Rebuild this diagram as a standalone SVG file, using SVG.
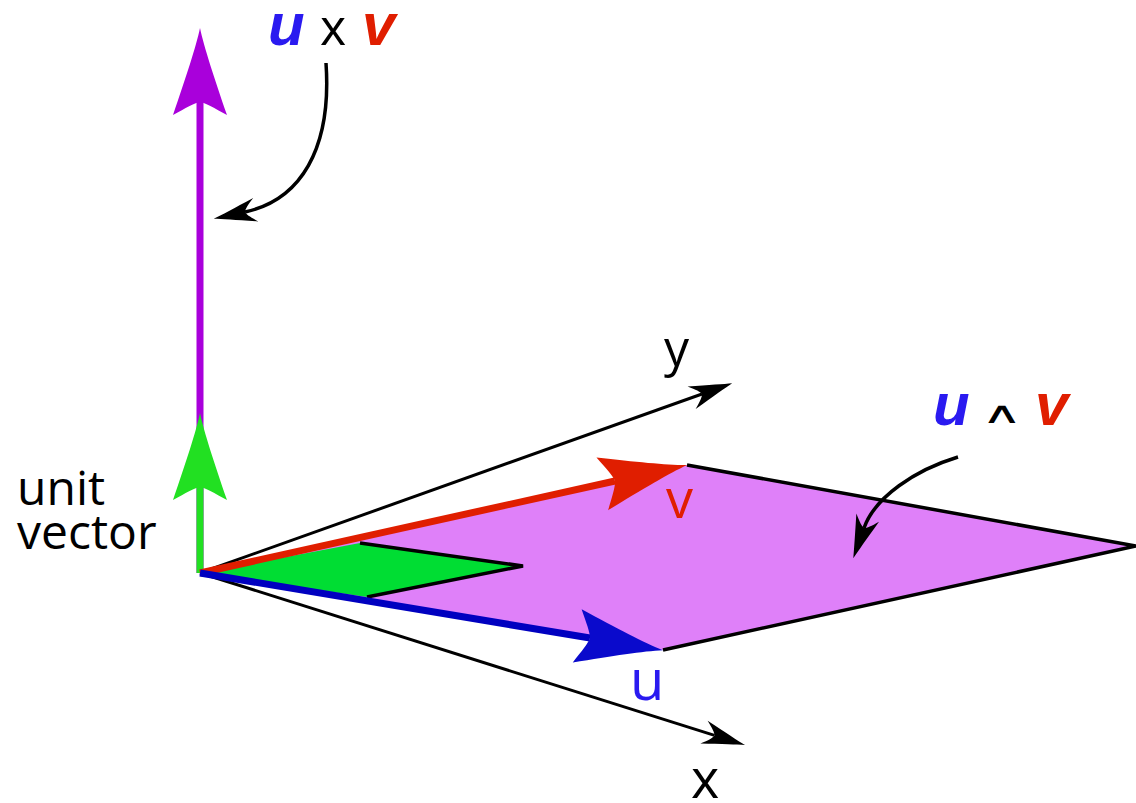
<svg xmlns="http://www.w3.org/2000/svg" width="1136" height="803" viewBox="0 0 1136 803">
<style>
.txt{font-family:"Open Sans","DejaVu Sans",sans-serif}
.bi{font-family:"Liberation Sans",Arial,sans-serif;font-weight:bold;font-style:italic}
.axis{stroke:#000;stroke-width:3;fill:none}
.lead{stroke:#000;stroke-width:3.5;fill:none}
.vec{stroke-width:7;fill:none}
.edge{stroke:#000;stroke-width:3.5;fill:none;stroke-linejoin:miter}
</style>
<defs>
<marker id="mPurple" markerUnits="userSpaceOnUse" orient="auto" markerWidth="200" markerHeight="200" refX="0" refY="0" overflow="visible">
<path d="M74,0 C55,-4 25,-14 -13,-27 C-6,-14 -1,-6 0,0 C-1,6 -6,14 -13,27 C25,14 55,4 74,0 Z" fill="#A900DB"/>
</marker>
<marker id="mGreen" markerUnits="userSpaceOnUse" orient="auto" markerWidth="200" markerHeight="200" refX="0" refY="0" overflow="visible">
<path d="M74,0 C55,-4 25,-14 -13,-27 C-6,-14 -1,-6 0,0 C-1,6 -6,14 -13,27 C25,14 55,4 74,0 Z" fill="#22E022"/>
</marker>
<marker id="mRed" markerUnits="userSpaceOnUse" orient="auto" markerWidth="200" markerHeight="200" refX="0" refY="0" overflow="visible">
<path d="M74,0 C55,-4 25,-14 -13,-27 C-6,-14 -1,-6 0,0 C-1,6 -6,14 -13,27 C25,14 55,4 74,0 Z" fill="#E01E00"/>
</marker>
<marker id="mBlue" markerUnits="userSpaceOnUse" orient="auto" markerWidth="200" markerHeight="200" refX="0" refY="0" overflow="visible">
<path d="M74,0 C55,-4 25,-14 -13,-27 C-6,-14 -1,-6 0,0 C-1,6 -6,14 -13,27 C25,14 55,4 74,0 Z" fill="#0A0ACC"/>
</marker>
<marker id="mBlack" markerUnits="userSpaceOnUse" orient="auto" markerWidth="100" markerHeight="100" refX="0" refY="0" overflow="visible">
<path d="M32,0 C24,-2 10,-6 -11,-12 C-4,-6 -1,-3 0,0 C-1,3 -4,6 -11,12 C10,6 24,2 32,0 Z" fill="#000"/>
</marker>
</defs>
<rect width="1136" height="803" fill="#fff"/>

<g id="axes">
<line class="axis" x1="200" y1="573" x2="702" y2="394" marker-end="url(#mBlack)"/>
<line class="axis" x1="200" y1="573" x2="714.5" y2="735.4" marker-end="url(#mBlack)"/>
</g>

<g id="wedge-area">
<polygon points="200,573 687,465 1136,546 663,650" fill="#DF80F9"/>
<polyline class="edge" points="687,465 1136,546 663,650"/>
</g>

<g id="unit-area">
<polygon points="200,573 360,543 523,566 367,597" fill="#00DD33"/>
<polyline class="edge" points="360,543 523,566 367,597"/>
</g>

<g id="connectors">
<line class="vec" stroke="#A900DB" x1="200" y1="573" x2="200" y2="102" marker-end="url(#mPurple)"/>
<line class="vec" stroke="#22E022" x1="200" y1="573" x2="200" y2="487" marker-end="url(#mGreen)"/>
<line class="vec" stroke="#E01E00" x1="200" y1="573" x2="615" y2="481" marker-end="url(#mRed)"/>
<line class="vec" stroke="#0000C0" x1="200" y1="573" x2="590" y2="638" marker-end="url(#mBlue)"/>
<path class="lead" d="M326,63 C332,150 300,200 245,212" marker-end="url(#mBlack)"/>
<path class="lead" d="M958,457 C915,470 875,497 864,528" marker-end="url(#mBlack)"/>
</g>

<g id="labels">
<text class="txt" x="17" y="505" font-size="48" fill="#000">unit</text>
<text class="txt" x="17" y="549" font-size="48" fill="#000">vector</text>
<text class="txt" x="664" y="366" font-size="50" fill="#000">y</text>
<text class="txt" x="691" y="798" font-size="54" fill="#000">x</text>
<text class="txt" x="630" y="700" font-size="56" fill="#2A1AF0">u</text>
<text class="txt" x="666" y="518" font-size="54" fill="#E01E00">v</text>
</g>

<g id="cross-label">
<text x="268" y="45" font-size="60"><tspan class="bi" fill="#2A1AF0">u</tspan><tspan class="txt" x="320" font-size="50" fill="#000">x</tspan><tspan class="bi" x="362" fill="#E01E00">v</tspan></text>
</g>

<g id="wedge-label">
<text x="933" y="425" font-size="60" class="bi" fill="#2A1AF0">u</text>
<text transform="translate(981,423) scale(1.9,1)" x="0" y="0" font-family="'DejaVu Sans',sans-serif" font-size="30" fill="#000">∧</text>
<text x="1035" y="425" font-size="60" class="bi" fill="#E01E00">v</text>
</g>
</svg>
